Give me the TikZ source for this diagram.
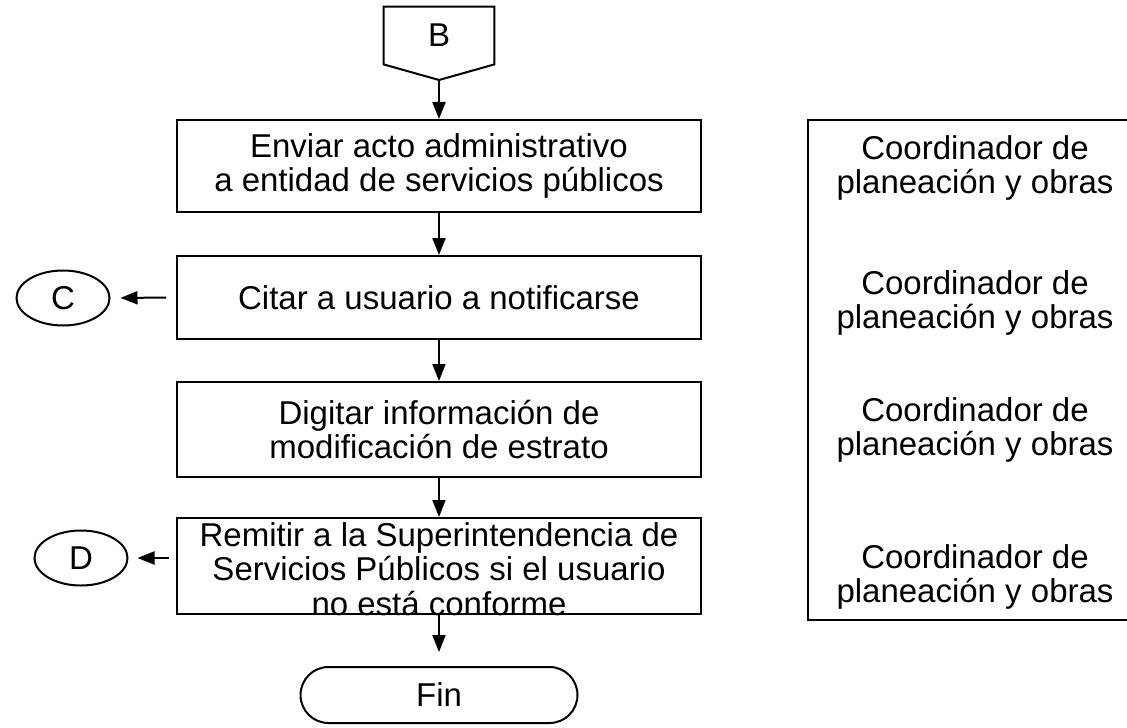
\documentclass[tikz,border=0pt]{standalone}
\usepackage{fontspec}
\setmainfont{Liberation Sans}
\usetikzlibrary{shapes.geometric,arrows.meta}
\begin{document}
\begin{tikzpicture}[x=0.5pt, y=-0.5pt,
  every node/.style={font=\fontsize{16.5}{17.2}\selectfont},
  proc/.style={draw, line width=1pt, minimum width=262pt, inner sep=0pt, align=center},
  conn/.style={draw, ellipse, line width=1pt, minimum width=46.5pt, minimum height=27.5pt, inner sep=0pt},
  arr/.style={-{Triangle[length=8.5pt,width=6.5pt]}, line width=1pt}]
  \useasboundingbox (0,0) rectangle (1127,727);
  % conector de pagina B
  \node[minimum width=55pt, minimum height=28.5pt, inner sep=0pt] (B) at (439,35.5) {B};
  \coordinate (Bp) at (439,80);
  \draw[line width=1pt] (B.south west) -- (B.north west) -- (B.north east) -- (B.south east) -- (Bp) -- cycle;
  % pasos del procedimiento
  \node[proc, minimum height=46pt] (env) at (439,166) {Enviar acto administrativo\\a entidad de servicios públicos};
  \node[proc, minimum height=41.5pt] (cit) at (439,297.5) {Citar a usuario a notificarse};
  \node[proc, minimum height=47.5pt] (dig) at (439,429.5) {Digitar información de\\modificación de estrato};
  \node[proc, minimum height=48pt, label={[align=center, yshift=-1.5pt]center:{Remitir a la Superintendencia de\\Servicios Públicos si el usuario\\no está conforme}}] (rem) at (439,566) {};
  \node[draw, line width=1pt, rounded corners=14pt, minimum width=138.5pt, minimum height=28pt] (fin) at (439,695) {Fin};
  % conectores C y D
  \node[conn] (C) at (63,298) {C};
  \node[conn] (D) at (81,558) {D};
  % responsables
  \node[draw, line width=1pt, minimum width=167.5pt, minimum height=250pt] (resp) at (975,370) {};
  \foreach \y [count=\i] in {168,303,430,577}
    \node[align=center] (resp\i) at (975,\y) {Coordinador de\\planeación y obras};
  % flechas
  \draw[arr] (Bp) -- (env);
  \draw[arr] (env) -- (cit);
  \draw[arr] (cit) -- (dig);
  \draw[arr] (dig) -- (rem);
  \draw[arr, shorten >=7pt] (rem) -- (fin);
  \draw[arr, shorten <=5pt, shorten >=5pt] (cit.west) -- (C.east);
  \draw[arr, shorten <=3.5pt, shorten >=4.5pt] (D.east -| rem.west) -- (D.east);
\end{tikzpicture}
\end{document}
